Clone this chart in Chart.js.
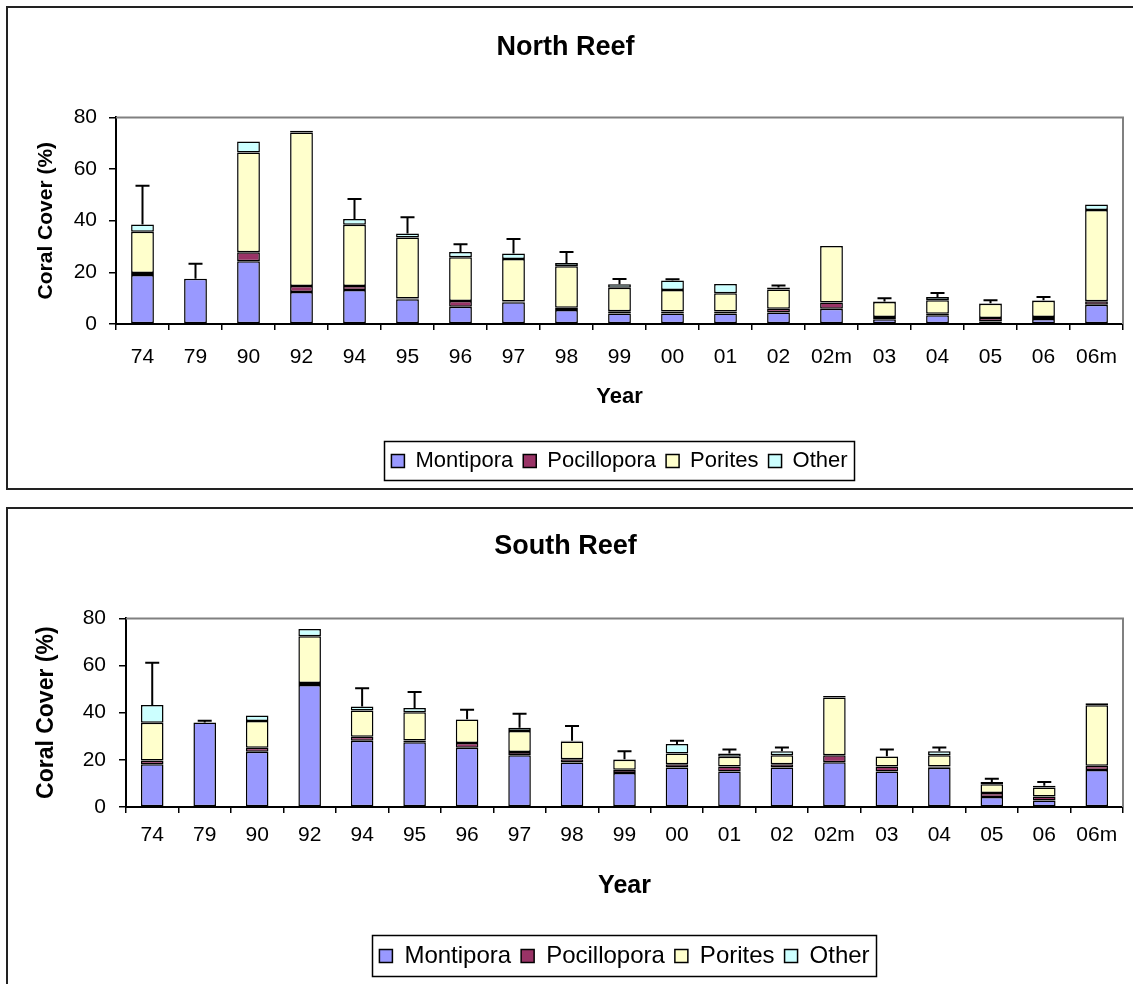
<!DOCTYPE html>
<html>
<head>
<meta charset="utf-8">
<title>Coral Cover</title>
<script src="https://cdn.jsdelivr.net/npm/chart.js@4.4.1/dist/chart.umd.min.js"></script>
<style>
  body { margin: 0; background: #fff; font-family: "Liberation Sans", Arial, sans-serif; }
  .box { position: absolute; left: 6px; width: 1140px; border: 2px solid #222; background: #fff; }
  #northBox { top: 6px; height: 480px; }
  #southBox { top: 507px; height: 490px; }
  canvas { display: block; }
</style>
</head>
<body>
<div class="box" id="northBox"><canvas id="north" width="1125" height="480"></canvas></div>
<div class="box" id="southBox"><canvas id="south" width="1125" height="475"></canvas></div>
<script>
const years = ["74", "79", "90", "92", "94", "95", "96", "97", "98", "99", "00", "01", "02", "02m", "03", "04", "05", "06", "06m"];
const yTicks = [0, 20, 40, 60, 80];

// North Reef cover by genus (%)
const northMontipora   = [19, 17.5, 24.3, 12.4, 13.2, 9.6, 6.7, 8.4, 5.4, 4.1, 4.1, 4.1, 4.5, 5.9, 1.8, 3.4, 1.0, 1.9, 7.5];
const northPocillopora = [0.7, 0, 3.5, 2.3, 1.5, 0.3, 2.2, 0.3, 0.9, 0.8, 0.7, 0.7, 1.4, 2.4, 0.9, 0.6, 1.3, 0.8, 1.3];
const northPorites     = [16, 0, 38.6, 59.5, 23.7, 23.6, 16.9, 16.5, 16.1, 9.1, 8.4, 7.1, 7.5, 21.9, 5.8, 5.2, 5.5, 6.3, 35.3];
const northOther       = [2.8, 0, 4.3, 0.6, 2.3, 1.5, 2.1, 2.1, 1.2, 1.4, 3.6, 3.6, 0.7, 0, 0.2, 1.3, 0.2, 0.2, 2.2];
const northError       = [15, 5.8, null, null, 7.7, 6.3, 3, 5.6, 4.3, 2, 0.5, null, 0.8, null, 1.3, 1.5, 1.2, 1.3, null];

// South Reef cover by genus (%)
const southMontipora   = [18.1, 35.8, 23.4, 51.8, 28.1, 27.5, 25.1, 21.9, 18.9, 14.4, 16.8, 15.1, 16.8, 19, 15.1, 16.6, 4.2, 2.8, 15.7];
const southPocillopora = [1.6, 0, 1.7, 0.8, 1.7, 0.7, 2.1, 1.4, 1.4, 1.4, 1.3, 2.1, 1.3, 3, 2.1, 0.6, 1.7, 1.7, 1.8];
const southPorites     = [16, 0, 11.4, 19.8, 11.1, 12, 9.9, 8.9, 7.5, 4.2, 4.6, 4.1, 3.8, 24.5, 4.2, 4.7, 3.8, 3.8, 25.7];
const southOther       = [7.6, 0, 2.3, 3.1, 1.7, 1.8, 0.1, 1.4, 0.3, 0.3, 4.0, 1.4, 1.7, 0.6, 0.1, 1.7, 0.9, 0.7, 0.8];
const southError       = [17.9, 0.8, null, null, 7.8, 6.8, 4.1, 6.0, 6.3, 3.3, 1.4, 1.7, 1.6, null, 2.9, 1.6, 1.4, 1.6, null];

const FONT = '"Liberation Sans", Arial, sans-serif';
const colors = { Montipora: "#9999ff", Pocillopora: "#993366", Porites: "#ffffcc", Other: "#ccffff" };

// gray plot-area frame (top and right edges)
const plotFrame = {
  id: "plotFrame",
  beforeDatasetsDraw(chart) {
    const { ctx, chartArea: a } = chart;
    ctx.save();
    ctx.strokeStyle = "#808080";
    ctx.lineWidth = 2;
    ctx.beginPath();
    ctx.moveTo(a.left, a.top);
    ctx.lineTo(a.right, a.top);
    ctx.lineTo(a.right, a.bottom);
    ctx.stroke();
    ctx.restore();
  }
};

// upward error bars on top of each stack
const errorBars = {
  id: "errorBars",
  afterDatasetsDraw(chart, args, opts) {
    const { ctx, scales: { x, y } } = chart;
    const sets = chart.data.datasets;
    ctx.save();
    ctx.strokeStyle = "#000";
    ctx.lineWidth = 2;
    opts.errors.forEach((err, i) => {
      if (err == null) return;
      const total = sets.reduce((s, d) => s + d.data[i], 0);
      const px = x.getPixelForValue(i);
      const y0 = y.getPixelForValue(total);
      const y1 = y.getPixelForValue(total + err);
      ctx.beginPath();
      ctx.moveTo(px, y0);
      ctx.lineTo(px, y1);
      ctx.moveTo(px - 7, y1);
      ctx.lineTo(px + 7, y1);
      ctx.stroke();
    });
    ctx.restore();
  }
};

// border around the legend items
const legendFrame = {
  id: "legendFrame",
  afterDraw(chart) {
    const lg = chart.legend;
    if (!lg || !lg.legendHitBoxes.length) return;
    const hb = lg.legendHitBoxes;
    const left = Math.min(...hb.map(h => h.left)) - 7;
    const right = Math.max(...hb.map(h => h.left + h.width)) + 7;
    const ctx = chart.ctx;
    ctx.save();
    ctx.strokeStyle = "#000";
    ctx.lineWidth = 1.5;
    ctx.strokeRect(Math.round(left) + 0.5, Math.round(lg.top) + 1.5, Math.round(right - left), Math.round(lg.bottom - lg.top) - 3);
    ctx.restore();
  }
};

function makeChart(id, title, series, errors, g) {
  const names = ["Montipora", "Pocillopora", "Porites", "Other"];
  const datasets = series.map((data, k) => ({
    label: names[k],
    data: data,
    backgroundColor: colors[names[k]],
    borderColor: "#000",
    borderWidth: 1.5,
    borderSkipped: false,
    categoryPercentage: 1,
    barPercentage: 0.43
  }));

  return new Chart(document.getElementById(id), {
    type: "bar",
    data: { labels: years, datasets },
    options: {
      responsive: false,
      animation: false,
      layout: { padding: { left: 0, right: 10, top: 0, bottom: g.padBottom } },
      plugins: {
        title: {
          display: true,
          text: title,
          color: "#000",
          font: { family: FONT, size: 27, weight: "bold" },
          padding: { top: g.titleTop, bottom: g.titleBottom }
        },
        legend: {
          position: "bottom",
          fullSize: false,
          labels: {
            color: "#000",
            font: { family: FONT, size: g.legendFont },
            boxWidth: 13,
            boxHeight: 13,
            padding: 10
          }
        },
        tooltip: { enabled: false },
        errorBars: { errors }
      },
      scales: {
        x: {
          stacked: true,
          grid: { offset: true, drawOnChartArea: false, drawTicks: true, tickLength: 6, color: "#000", lineWidth: 1.5 },
          border: { display: true, color: "#000", width: 2 },
          ticks: { color: "#000", font: { family: FONT, size: g.tickFont }, padding: g.xTickPad, maxRotation: 0, autoSkip: false },
          title: {
            display: true,
            text: "Year",
            color: "#000",
            font: { family: FONT, size: g.yearFont, weight: "bold" },
            padding: { top: 0, bottom: g.yearPad }
          },
          afterFit(scale) { scale.height = g.xHeight; }
        },
        y: {
          stacked: true,
          min: 0,
          max: 80,
          afterBuildTicks(scale) { scale.ticks = yTicks.map(v => ({ value: v })); },
          grid: { drawOnChartArea: false, drawTicks: true, tickLength: 7, color: "#000", lineWidth: 1.5 },
          border: { display: true, color: "#000", width: 2 },
          ticks: { color: "#000", font: { family: FONT, size: g.tickFont }, padding: g.yTickPad },
          title: {
            display: true,
            text: "Coral Cover (%)",
            color: "#000",
            font: { family: FONT, size: g.axisFont, weight: "bold" },
            padding: { top: g.yTitleTop, bottom: 0 }
          },
          afterFit(scale) { scale.width = g.yWidth; }
        }
      }
    },
    plugins: [plotFrame, errorBars, legendFrame]
  });
}

makeChart("north", "North Reef",
  [northMontipora, northPocillopora, northPorites, northOther], northError,
  { padBottom: 6, titleTop: 23, titleBottom: 54, legendFont: 22, tickFont: 21, axisFont: 21, yearFont: 22,
    xTickPad: 14.5, yearPad: 30, xHeight: 116, yTickPad: 12, yTitleTop: 26, yWidth: 108 });

makeChart("south", "South Reef",
  [southMontipora, southPocillopora, southPorites, southOther], southError,
  { padBottom: 6, titleTop: 21, titleBottom: 56, legendFont: 24, tickFont: 21, axisFont: 23, yearFont: 25,
    xTickPad: 9.5, yearPad: 33, xHeight: 127, yTickPad: 13, yTitleTop: 25, yWidth: 118 });
</script>
</body>
</html>
